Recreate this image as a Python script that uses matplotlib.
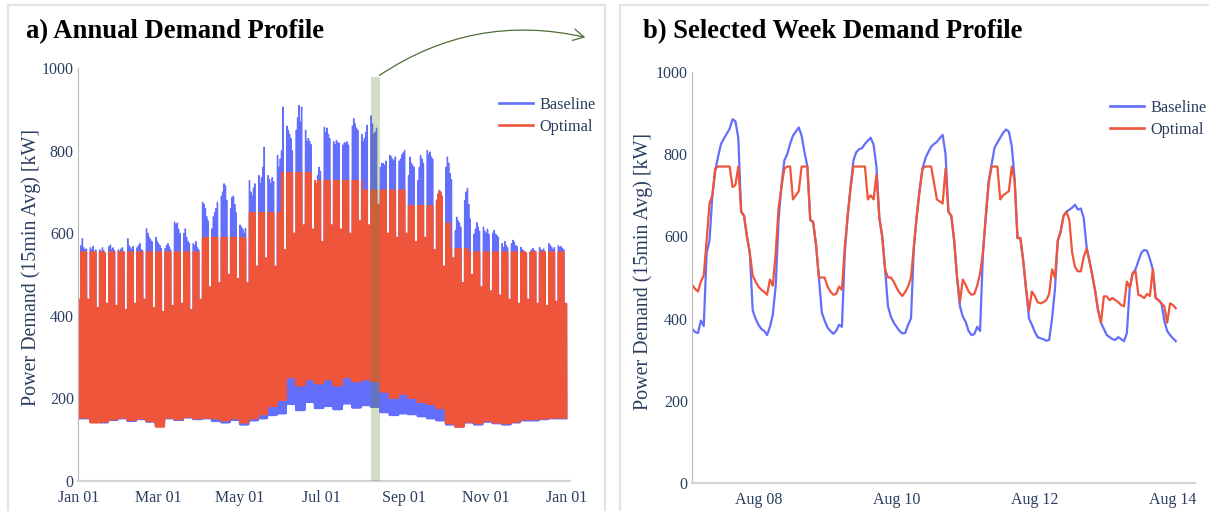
import numpy as np
import pandas as pd
import matplotlib
matplotlib.use("Agg")
import matplotlib.pyplot as plt
import matplotlib.dates as mdates
from matplotlib.patches import Rectangle, FancyArrowPatch
from matplotlib.lines import Line2D

plt.rcParams["font.family"] = ["Liberation Serif", "DejaVu Serif"]

BASE_COLOR = "#636EFA"
OPT_COLOR = "#EF553B"
TEXT_COLOR = "#2a3f5f"

# ---------------- annual profile (2023) ----------------
# baseline daily peak, Monday..Friday, for each week starting 2023-01-02
base_weekday_peaks = [
    [570, 587, 565, 560, 562], [565, 560, 568, 555, 560], [560, 555, 565, 558, 552],
    [568, 572, 560, 565, 558], [560, 556, 562, 565, 555], [587, 570, 565, 560, 568],
    [565, 570, 575, 560, 558], [611, 600, 590, 585, 580], [590, 580, 575, 570, 563],
    [563, 570, 575, 568, 560], [627, 620, 625, 610, 600], [600, 611, 590, 580, 575],
    [575, 570, 580, 565, 560], [675, 670, 660, 640, 630], [611, 640, 650, 660, 675],
    [690, 700, 720, 715, 680], [660, 687, 690, 670, 650], [620, 615, 610, 600, 612],
    [728, 700, 690, 710, 720], [740, 720, 735, 760, 809], [740, 730, 720, 735, 725],
    [789, 760, 780, 800, 906], [860, 850, 840, 830, 800], [850, 880, 910, 870, 906],
    [850, 823, 830, 823, 815], [728, 720, 740, 760, 750], [857, 845, 855, 840, 830],
    [822, 815, 825, 820, 818], [814, 820, 818, 822, 814], [860, 878, 865, 855, 850],
    [840, 822, 830, 845, 862], [885, 865, 840, 845, 855], [760, 770, 769, 765, 775],
    [789, 785, 780, 775, 785], [775, 780, 790, 795, 801], [740, 785, 770, 765, 760],
    [728, 760, 789, 780, 770], [801, 790, 797, 785, 780], [680, 695, 704, 700, 690],
    [760, 785, 770, 745, 730], [607, 639, 630, 625, 615], [680, 700, 709, 670, 635],
    [598, 610, 626, 615, 605], [615, 605, 600, 610, 598], [600, 607, 598, 595, 590],
    [575, 566, 580, 570, 565], [575, 583, 578, 570, 568], [566, 560, 558, 555, 552],
    [555, 560, 563, 558, 556], [566, 560, 558, 562, 555], [575, 570, 566, 560, 565],
    [570, 565, 568, 563, 560]]
# baseline weekend peak, same weeks
base_weekend_peak = [440, 420, 430, 425, 415, 430, 440, 420, 410, 425, 430, 415, 440,
                     470, 480, 500, 490, 480, 520, 540, 520, 560, 600, 620, 610, 580,
                     620, 610, 600, 630, 620, 670, 600, 590, 600, 580, 590, 560, 520,
                     540, 480, 500, 470, 460, 450, 440, 430, 440, 430, 425, 435, 430]
# weekly night-time minimum
base_night_min = [150, 145, 140, 146, 150, 144, 148, 142, 138, 150, 146, 152, 148,
                  150, 144, 140, 146, 135, 145, 150, 158, 162, 185, 170, 190, 175,
                  180, 172, 186, 176, 182, 178, 165, 158, 162, 160, 155, 150, 145,
                  135, 130, 140, 135, 142, 138, 135, 140, 145, 145, 148, 150, 150]
opt_night_min = [152, 140, 142, 148, 152, 146, 150, 144, 130, 152, 148, 154, 150,
                 152, 150, 145, 150, 140, 150, 160, 180, 195, 250, 230, 245, 235,
                 245, 230, 250, 240, 245, 240, 215, 200, 210, 200, 190, 185, 175,
                 138, 130, 142, 138, 145, 140, 138, 142, 148, 148, 150, 152, 152]
# peak limit of the optimised schedule, valid from each start date
cap_start = ["2023-01-01", "2023-04-01", "2023-05-07", "2023-06-01", "2023-06-26",
             "2023-08-01", "2023-09-02", "2023-09-23", "2023-09-30", "2023-10-06",
             "2023-10-19"]
cap_level = [555, 590, 650, 747, 728, 705, 667, 706, 625, 563, 555]

# ---------------- selected week, hourly from 2023-08-07 01:00 ----------------
week_start = "2023-08-07 01:00"
week_baseline = [
    375, 367, 365, 395, 382, 560, 590, 700, 760, 795, 825, 838, 850, 862, 885, 880, 840, 660, 650, 600, 560, 420, 400, 385,
    375, 370, 360, 380, 410, 480, 640, 725, 785, 800, 825, 845, 855, 865, 845, 805, 770, 640, 635, 580, 500, 415, 395, 378,
    370, 363, 370, 385, 380, 560, 650, 720, 785, 805, 812, 815, 825, 833, 840, 823, 770, 645, 600, 520, 430, 405, 390, 380,
    370, 364, 365, 385, 400, 575, 650, 715, 765, 790, 805, 818, 825, 830, 839, 847, 800, 660, 650, 590, 500, 430, 405, 392,
    370, 360, 362, 380, 370, 560, 650, 735, 775, 815, 828, 840, 852, 860, 855, 820, 740, 596, 596, 540, 470, 400, 385, 368,
    355, 352, 350, 346, 348, 400, 470, 590, 612, 650, 660, 665, 670, 677, 665, 668, 645, 575, 540, 505, 466, 420, 390, 375,
    360, 355, 350, 348, 355, 350, 345, 365, 475, 510, 520, 540, 560, 567, 565, 545, 520, 450, 445, 437, 395, 370, 360, 352,
    345]
week_optimal = [
    482, 472, 466, 490, 505, 590, 680, 700, 765, 770, 770, 770, 770, 770, 720, 725, 770, 660, 650, 600, 560, 505, 490, 478,
    470, 465, 458, 495, 480, 560, 670, 720, 765, 770, 770, 690, 700, 710, 770, 770, 770, 640, 635, 580, 500, 500, 500, 478,
    466, 458, 460, 478, 470, 575, 650, 717, 770, 770, 770, 770, 770, 690, 700, 690, 750, 645, 600, 520, 500, 500, 490, 475,
    463, 455, 465, 478, 500, 575, 650, 710, 765, 770, 770, 770, 730, 690, 685, 680, 765, 660, 650, 590, 500, 440, 495, 482,
    466, 458, 460, 480, 510, 560, 650, 730, 770, 770, 770, 690, 700, 705, 710, 770, 735, 596, 596, 540, 470, 420, 466, 455,
    440, 437, 440, 445, 460, 520, 500, 590, 612, 650, 660, 640, 560, 525, 515, 515, 550, 570, 540, 505, 466, 420, 390, 454,
    454, 445, 450, 445, 440, 433, 430, 490, 475, 510, 515, 458, 455, 450, 460, 455, 520, 450, 445, 437, 430, 390, 437, 433,
    425]

y_ticks = [0, 200, 400, 600, 800, 1000]
annual_ticks = ["2023-01-01", "2023-03-01", "2023-05-01", "2023-07-01", "2023-09-01",
                "2023-11-01", "2024-01-01"]
week_ticks = ["2023-08-08", "2023-08-10", "2023-08-12", "2023-08-14"]

# ---------------- build the annual load curve ----------------
days = pd.date_range("2023-01-01", "2023-12-31", freq="D")
cap_dates = pd.to_datetime(cap_start).values
t_a, b_a, o_a = [], [], []
for d, day in enumerate(days):
    w = max(d - 1, 0) // 7
    wd = day.weekday()
    peak = base_weekday_peaks[w][wd] if wd < 5 else base_weekend_peak[w]
    cap = cap_level[np.searchsorted(cap_dates, day.to_datetime64(), side="right") - 1]
    opk = min(peak, cap)
    bmin = base_night_min[w]
    omin = opt_night_min[w]
    d0 = mdates.date2num(day)
    for frac, bv, ov in ((4 / 24, bmin, omin), (8 / 24, peak, opk),
                         (16 / 24, peak, opk), (20 / 24, bmin, omin)):
        t_a.append(d0 + frac)
        b_a.append(bv)
        o_a.append(ov)

week_times = pd.date_range(week_start, periods=len(week_baseline), freq="h")

# ---------------- figure ----------------
W, H = 1209, 511
fig = plt.figure(figsize=(W / 100, H / 100), dpi=100)
fig.patch.set_facecolor("white")


def fx(px):
    return px / W


def fy(py):
    return 1 - py / H


# panel frames
for x0, x1 in ((8, 605), (620, 1215)):
    fig.patches.append(Rectangle((fx(x0), fy(520)), fx(x1 - x0), (520 - 5) / H,
                                 transform=fig.transFigure, fill=False,
                                 edgecolor="#e3e3e3", lw=1.6, zorder=0))

ax1 = fig.add_axes([fx(78), fy(480.8), fx(570 - 78), (480.8 - 68.3) / H])
ax2 = fig.add_axes([fx(692), fy(483), fx(1195 - 692), (483 - 72) / H])


def style_axis(ax):
    ax.set_facecolor("none")
    for s in ("top", "right"):
        ax.spines[s].set_visible(False)
    ax.spines["left"].set_color("#b9b9b9")
    ax.spines["left"].set_linewidth(0.8)
    ax.spines["bottom"].set_color("#d4d4d4")
    ax.spines["bottom"].set_linewidth(1.6)
    ax.set_ylim(0, 1000)
    ax.set_yticks(y_ticks)
    ax.tick_params(axis="both", length=0, labelsize=11.5, colors=TEXT_COLOR)
    ax.tick_params(axis="y", pad=3)
    ax.tick_params(axis="x", pad=6.5)
    ax.xaxis.set_major_formatter(mdates.DateFormatter("%b %d"))


# panel a
ax1.plot(t_a, b_a, color=BASE_COLOR, lw=0.9, solid_joinstyle="miter")
ax1.plot(t_a, o_a, color=OPT_COLOR, lw=0.9, solid_joinstyle="miter")
style_axis(ax1)
ax1.set_xlim(mdates.date2num(pd.Timestamp("2023-01-01")) - 0.75,
             mdates.date2num(pd.Timestamp("2024-01-01")) + 2.2)
ax1.set_xticks(mdates.date2num(pd.to_datetime(annual_ticks)))
band_x0 = mdates.date2num(week_times[0])
band_x1 = mdates.date2num(week_times[-1])
ax1.add_patch(Rectangle((band_x0, 0), band_x1 - band_x0, 980, facecolor="#5f8a3a",
                        alpha=0.28, edgecolor="none", zorder=5, clip_on=False))

# panel b
ax2.plot(week_times, week_baseline, color=BASE_COLOR, lw=1.6)
ax2.plot(week_times, week_optimal, color=OPT_COLOR, lw=1.6)
style_axis(ax2)
ax2.set_xlim(pd.Timestamp("2023-08-07 00:55"), pd.Timestamp("2023-08-14 07:40"))
ax2.set_xticks(pd.to_datetime(week_ticks))
ax2.xaxis.set_major_formatter(mdates.DateFormatter("%b %d"))

# titles and axis labels
fig.text(fx(26), fy(38), "a) Annual Demand Profile", fontsize=19.2, fontweight="bold",
         color="black", ha="left", va="baseline")
fig.text(fx(643), fy(38), "b) Selected Week Demand Profile", fontsize=19.2,
         fontweight="bold", color="black", ha="left", va="baseline")
ylab = "Power Demand (15min Avg) [kW]"
fig.text(fx(31), fy(268), ylab, rotation=90, fontsize=14.4, color=TEXT_COLOR,
         ha="center", va="center")
fig.text(fx(643), fy(272), ylab, rotation=90, fontsize=14.4, color=TEXT_COLOR,
         ha="center", va="center")

# legends
handles = [Line2D([], [], color=BASE_COLOR, lw=1.9), Line2D([], [], color=OPT_COLOR, lw=1.9)]
for ax, lx, ly in ((ax1, 499, 97), (ax2, 1110, 100)):
    leg = ax.legend(handles, ["Baseline", "Optimal"], loc="upper left",
                    bbox_to_anchor=(fx(lx), fy(ly)), bbox_transform=fig.transFigure,
                    frameon=False, borderpad=0, borderaxespad=0, handlelength=2.1,
                    handletextpad=0.4, labelspacing=0.35, fontsize=11.7)
    for txt in leg.get_texts():
        txt.set_color(TEXT_COLOR)

# connector from the highlighted week to panel b
arrow = FancyArrowPatch((fx(377), fy(77)), (fx(588), fy(38)),
                        transform=fig.transFigure, connectionstyle="arc3,rad=-0.22",
                        arrowstyle="->,head_length=0.55,head_width=0.3",
                        mutation_scale=14, color="#4f6e36", lw=0.9)
fig.patches.append(arrow)

fig.savefig("out.png", dpi=100, facecolor="white")
